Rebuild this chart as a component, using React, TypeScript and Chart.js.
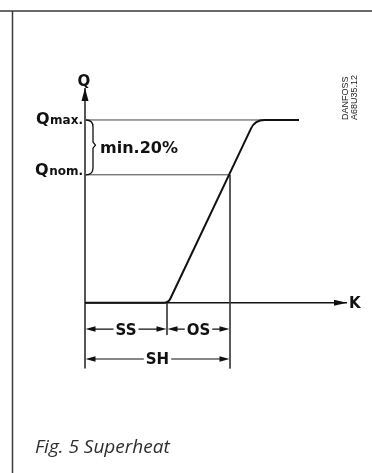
import React, { useEffect, useRef } from "react";
import { Chart, registerables } from "chart.js";

Chart.register(...registerables);

// ---- data (K = superheat units, Q = capacity %) ----
const curveK = [0, 4.17, 8.5, 10.7];
const curveQ = [0, 0, 100, 100];
const qLevels = [100, 70]; // Qmax, Qnom
const qLabels = ["max.", "nom."];
const ssK = 4.1; // static superheat
const shK = 7.25; // total superheat (SS + OS)
const axisK = [0, 13.1];
const axisQ = [-36, 117.5];
const ssDimQ = -14.4;
const shDimQ = -30.8;
const ssExtQ = -17.7;
const dimLabels = ["SS", "OS", "SH"];
const axisLabels = ["Q", "K"];
const braceText = "min.20%";
const stamp = ["DANFOSS", "A68U35.12"];
const caption = "Fig. 5 Superheat";

const FONT = "'DejaVu Sans', sans-serif";

const pts = (xs: number[], ys: number[]) => xs.map((x, i) => ({ x, y: ys[i] }));

function arrowHead(ctx: CanvasRenderingContext2D, x: number, y: number, dx: number, dy: number, len = 9, hw = 3) {
  const px = -dy, py = dx;
  ctx.beginPath();
  ctx.moveTo(x, y);
  ctx.lineTo(x - dx * len + px * hw, y - dy * len + py * hw);
  ctx.lineTo(x - dx * len - px * hw, y - dy * len - py * hw);
  ctx.closePath();
  ctx.fill();
}

const drawPlugin = {
  id: "superheatDecor",
  afterDatasetsDraw(chart: any) {
    const ctx: CanvasRenderingContext2D = chart.ctx;
    const xs = chart.scales.x;
    const ys = chart.scales.y;
    const X = (v: number) => xs.getPixelForValue(v);
    const Y = (v: number) => ys.getPixelForValue(v);
    ctx.save();

    // frame
    ctx.strokeStyle = "#3a3a3a";
    ctx.lineWidth = 1.5;
    ctx.beginPath();
    ctx.moveTo(0, 11);
    ctx.lineTo(372, 11);
    ctx.moveTo(12.5, 11);
    ctx.lineTo(12.5, 473);
    ctx.stroke();

    // curve with rounded corners
    const meta = chart.getDatasetMeta(0);
    const p = meta.data.map((e: any) => ({ x: e.x, y: e.y }));
    ctx.strokeStyle = "#111";
    ctx.lineWidth = 2;
    ctx.lineJoin = "round";
    ctx.beginPath();
    ctx.moveTo(p[0].x, p[0].y);
    ctx.arcTo(p[1].x, p[1].y, p[2].x, p[2].y, 7);
    ctx.arcTo(p[2].x, p[2].y, p[3].x, p[3].y, 15);
    ctx.lineTo(p[3].x, p[3].y);
    ctx.stroke();

    ctx.fillStyle = "#111";
    // axis arrows
    arrowHead(ctx, X(0), Y(axisQ[1]), 0, -1, 13, 3.5);
    arrowHead(ctx, X(axisK[1]), Y(0), 1, 0, 13, 3);

    // axis labels
    ctx.font = `bold 15px ${FONT}`;
    ctx.textBaseline = "alphabetic";
    ctx.textAlign = "center";
    ctx.fillText(axisLabels[0], X(0) - 1, 86);
    ctx.textAlign = "left";
    ctx.fillText(axisLabels[1], X(axisK[1]) + 2, Y(0) + 5.5);

    // Qmax / Qnom labels
    qLevels.forEach((q, i) => {
      const right = X(0) - 2;
      ctx.font = `bold 12px ${FONT}`;
      const w2 = ctx.measureText(qLabels[i]).width;
      ctx.font = `bold 16px ${FONT}`;
      const w1 = ctx.measureText("Q").width;
      const base = Y(q) + (i === 0 ? 4 : 0.5);
      ctx.textAlign = "left";
      ctx.fillText("Q", right - w2 - w1 - 0.5, base);
      ctx.font = `bold 12px ${FONT}`;
      ctx.fillText(qLabels[i], right - w2, base);
    });

    // brace between Qmax and Qnom
    const bx = X(0) + 1;
    const yt = Y(qLevels[0]);
    const yb = Y(qLevels[1]);
    const ym = yt + (yb - yt) * 0.46;
    ctx.strokeStyle = "#111";
    ctx.lineWidth = 1.3;
    ctx.beginPath();
    ctx.moveTo(bx, yt);
    ctx.quadraticCurveTo(bx + 7, yt, bx + 7, yt + 7);
    ctx.lineTo(bx + 7, ym - 3);
    ctx.lineTo(bx + 9.5, ym);
    ctx.lineTo(bx + 7, ym + 3);
    ctx.lineTo(bx + 7, yb - 7);
    ctx.quadraticCurveTo(bx + 7, yb, bx, yb);
    ctx.stroke();
    ctx.font = `bold 16px ${FONT}`;
    ctx.textAlign = "left";
    ctx.fillText(braceText, 100, ym + 8.3);

    // dimension lines
    const dim = (k0: number, k1: number, q: number, label: string) => {
      const x0 = X(k0), x1 = X(k1), y = Y(q);
      ctx.font = `bold 15px ${FONT}`;
      const w = ctx.measureText(label).width;
      const cx = (x0 + x1) / 2;
      ctx.strokeStyle = "#111";
      ctx.lineWidth = 1.2;
      ctx.beginPath();
      ctx.moveTo(x0 + 4, y);
      ctx.lineTo(cx - w / 2 - 2, y);
      ctx.moveTo(cx + w / 2 + 2, y);
      ctx.lineTo(x1 - 4, y);
      ctx.stroke();
      arrowHead(ctx, x0 + 0.5, y, -1, 0, 10, 2.8);
      arrowHead(ctx, x1 - 0.5, y, 1, 0, 10, 2.8);
      ctx.textAlign = "center";
      ctx.fillText(label, cx, y + 5.5);
    };
    dim(0, ssK, ssDimQ, dimLabels[0]);
    dim(ssK, shK, ssDimQ, dimLabels[1]);
    dim(0, shK, shDimQ, dimLabels[2]);

    // DANFOSS stamp
    ctx.fillStyle = "#222";
    ctx.font = `9px 'Liberation Sans', Arial, sans-serif`;
    ctx.textAlign = "left";
    ctx.textBaseline = "alphabetic";
    [348.3, 356.7].forEach((bxl, i) => {
      ctx.save();
      ctx.translate(bxl, 120);
      ctx.rotate(-Math.PI / 2);
      ctx.fillText(stamp[i], 0, 0);
      ctx.restore();
    });

    // caption
    ctx.fillStyle = "#2e2e2e";
    ctx.font = `italic 19px 'Open Sans', sans-serif`;
    ctx.textAlign = "left";
    ctx.fillText(caption, 35, 453.3);

    ctx.restore();
  },
};

export default function App() {
  const ref = useRef<HTMLCanvasElement>(null);
  useEffect(() => {
    if (!ref.current) return;
    const thin = { borderColor: "#444", borderWidth: 1 };
    const chart = new Chart(ref.current, {
      type: "scatter",
      data: {
        datasets: [
          { data: pts(curveK, curveQ), showLine: false, pointRadius: 0, borderColor: "transparent" },
          { data: pts([0, curveK[3]], [qLevels[0], qLevels[0]]), ...thin },
          { data: pts([0, shK], [qLevels[1], qLevels[1]]), ...thin },
          { data: pts([shK, shK], [qLevels[1], axisQ[0]]), ...thin },
          { data: pts([ssK, ssK], [0, ssExtQ]), ...thin },
          { data: pts([0, 0], axisQ), borderColor: "#111", borderWidth: 1.4 },
          { data: pts(axisK, [0, 0]), borderColor: "#111", borderWidth: 1.4 },
        ].map((d: any) => ({ showLine: true, pointRadius: 0, tension: 0, clip: false, ...d })),
      },
      options: {
        animation: false,
        responsive: false,
        devicePixelRatio: 1,
        events: [],
        layout: { padding: { left: 85, right: 25, top: 88, bottom: 104.5 } },
        plugins: { legend: { display: false }, tooltip: { enabled: false }, title: { display: false } },
        scales: {
          x: { type: "linear", display: false, min: axisK[0], max: axisK[1] },
          y: { type: "linear", display: false, min: axisQ[0], max: axisQ[1] },
        },
      },
      plugins: [drawPlugin],
    });
    return () => chart.destroy();
  }, []);
  return (
    <div style={{ position: "absolute", left: 0, top: 0, width: 372, height: 473, background: "#fff" }}>
      <canvas ref={ref} width={372} height={473} style={{ width: 372, height: 473, display: "block" }} />
    </div>
  );
}
